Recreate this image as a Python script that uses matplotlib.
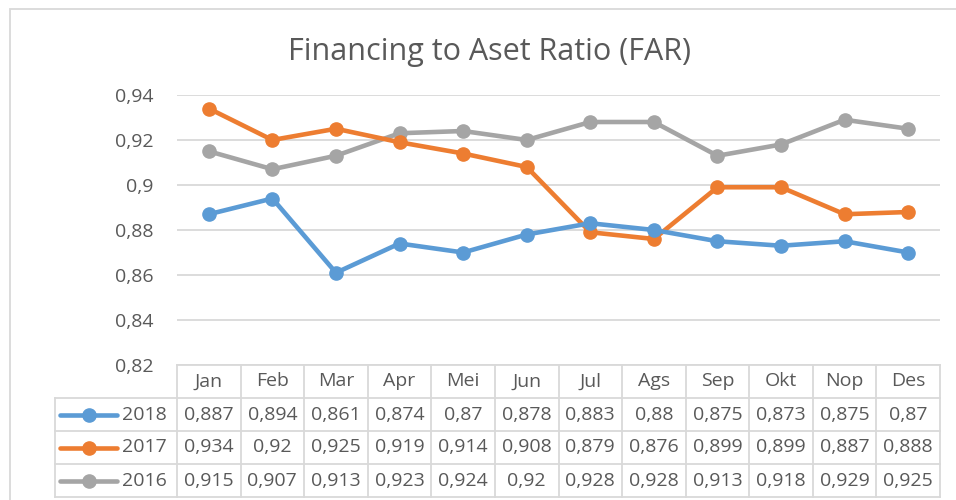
import matplotlib
matplotlib.use("Agg")
import matplotlib.pyplot as plt
from matplotlib.lines import Line2D
from matplotlib.patches import Rectangle

months = ["Jan", "Feb", "Mar", "Apr", "Mei", "Jun", "Jul", "Ags", "Sep", "Okt", "Nop", "Des"]
series_names = ["2018", "2017", "2016"]
far_2018 = [0.887, 0.894, 0.861, 0.874, 0.870, 0.878, 0.883, 0.880, 0.875, 0.873, 0.875, 0.870]
far_2017 = [0.934, 0.920, 0.925, 0.919, 0.914, 0.908, 0.879, 0.876, 0.899, 0.899, 0.887, 0.888]
far_2016 = [0.915, 0.907, 0.913, 0.923, 0.924, 0.920, 0.928, 0.928, 0.913, 0.918, 0.929, 0.925]
y_ticks = [0.82, 0.84, 0.86, 0.88, 0.90, 0.92, 0.94]
y_tick_labels = ["0,82", "0,84", "0,86", "0,88", "0,9", "0,92", "0,94"]
title = "Financing to Aset Ratio (FAR)"

colors = ["#5B9BD5", "#ED7D31", "#A5A5A5"]
series = [far_2018, far_2017, far_2016]
txt = "#595959"
grid = "#D9D9D9"
FONT = "Open Sans"
plt.rcParams["font.family"] = [FONT, "DejaVu Sans"]
FS = 14

W, H = 956, 500
fig = plt.figure(figsize=(W / 100, H / 100), dpi=100)

# outer chart frame
fig.patches.append(Rectangle((10 / W, -0.1), 1.2, (H - 9) / H + 0.1, transform=fig.transFigure,
                             fill=False, edgecolor=grid, lw=1.3))

ax = fig.add_axes([177 / W, (H - 365) / H, 763 / W, 270 / H])
x = list(range(len(months)))
for vals, c in zip(series[::-1], colors[::-1]):
    ax.plot(x, vals, color=c, lw=3.3, marker="o", markersize=9.5, solid_capstyle="round")
ax.set_xlim(-0.5, len(months) - 0.5)
ax.set_ylim(y_ticks[0], y_ticks[-1])
ax.set_yticks(y_ticks)
ax.set_yticklabels(y_tick_labels, fontsize=FS, color=txt)
ax.set_xticks([])
ax.tick_params(axis="y", length=0, pad=17)
ax.grid(axis="y", color=grid, lw=1.3)
ax.set_axisbelow(True)
for s in ax.spines.values():
    s.set_visible(False)

fig.text(490 / W, 1 - 60 / H, title, ha="center", va="baseline", fontsize=22, color=txt)

# data table
unit = 763 / 12.0
left_units = (177 - 55) / unit
tax = fig.add_axes([55 / W, 3 / H, (940 - 55) / W, 132 / H])
x0 = -0.5 - left_units
tax.set_xlim(x0, len(months) - 0.5)
tax.set_ylim(4, 0)
tax.axis("off")
lk = dict(color=grid, lw=1.3, clip_on=False)
tax.plot([-0.5, len(months) - 0.5], [0, 0], **lk)
for r in range(1, 5):
    tax.plot([x0, len(months) - 0.5], [r, r], **lk)
for i in range(len(months) + 1):
    tax.plot([i - 0.5, i - 0.5], [0, 4], **lk)
tax.plot([x0, x0], [1, 4], **lk)

for i, m in enumerate(months):
    tax.text(i, 0.5, m, ha="center", va="center", fontsize=FS, color=txt)

for r, (name, vals, c) in enumerate(zip(series_names, series, colors)):
    yy = r + 1.5
    for i, v in enumerate(vals):
        lab = f"{v:g}".replace(".", ",")
        tax.text(i, yy, lab, ha="center", va="center", fontsize=FS, color=txt)
    lx0 = x0 + 5 / unit
    lx1 = x0 + 62 / unit
    tax.add_line(Line2D([lx0, lx1], [yy, yy], color=c, lw=3.3, solid_capstyle="round", clip_on=False))
    tax.add_line(Line2D([(lx0 + lx1) / 2], [yy], color=c, marker="o", markersize=9.5, clip_on=False))
    tax.text(x0 + 67 / unit, yy, name, ha="left", va="center", fontsize=FS, color=txt)

fig.savefig("out.png", dpi=100)
